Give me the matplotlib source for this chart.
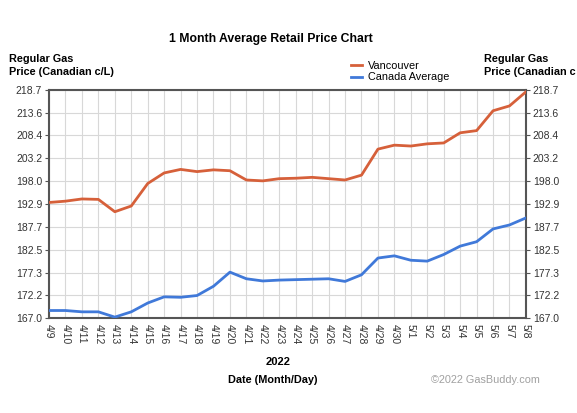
import matplotlib.pyplot as plt
import numpy as np

# data (cents per litre)
dates = ["4/9", "4/10", "4/11", "4/12", "4/13", "4/14", "4/15", "4/16", "4/17", "4/18",
         "4/19", "4/20", "4/21", "4/22", "4/23", "4/24", "4/25", "4/26", "4/27", "4/28",
         "4/29", "4/30", "5/1", "5/2", "5/3", "5/4", "5/5", "5/6", "5/7", "5/8"]
vancouver = [193.2, 193.5, 194.0, 193.9, 191.1, 192.4, 197.5, 199.9, 200.7, 200.2,
             200.6, 200.4, 198.3, 198.1, 198.6, 198.7, 198.9, 198.6, 198.3, 199.4,
             205.3, 206.2, 206.0, 206.5, 206.7, 209.0, 209.5, 214.0, 215.1, 218.3]
canada = [168.7, 168.7, 168.4, 168.4, 167.2, 168.4, 170.4, 171.8, 171.7, 172.1,
          174.2, 177.4, 175.9, 175.4, 175.6, 175.7, 175.8, 175.9, 175.3, 176.8,
          180.6, 181.1, 180.1, 179.9, 181.4, 183.3, 184.3, 187.2, 188.1, 189.7]
y_ticks = [167.0, 172.2, 177.3, 182.5, 187.7, 192.9, 198.0, 203.2, 208.4, 213.6, 218.7]

plt.rcParams['font.family'] = ['Liberation Sans', 'DejaVu Sans']

fig = plt.figure(figsize=(5.77, 4.13), dpi=100)
ax = fig.add_axes([0.085, 0.230, 0.8265, 0.552])

x = np.arange(len(dates))
ax.plot(x, vancouver, color='#d6603a', lw=2.0, label='Vancouver', zorder=3)
ax.plot(x, canada, color='#4079d9', lw=2.0, label='Canada Average', zorder=3)

ax.set_xlim(0, len(dates) - 1)
ax.set_ylim(y_ticks[0], y_ticks[-1])
ax.set_xticks(x)
ax.set_xticklabels(dates, rotation=270, fontsize=7.5, color='#333333')
ax.set_yticks(y_ticks)
ax.set_yticklabels([f"{v:.1f}" for v in y_ticks], fontsize=7.5, color='#333333')
ax.tick_params(axis='y', right=True, labelright=True, length=3, pad=2, color='#555555')
ax.tick_params(axis='x', length=0, pad=4)
ax.grid(True, color='#d8d8d8', lw=0.8)
for s in ax.spines.values():
    s.set_color('#555555')
    s.set_linewidth(1.5)

fig.text(0.47, 0.905, "1 Month Average Retail Price Chart", ha='center', va='center',
         fontsize=8.8, fontweight='bold')
fig.text(0.015, 0.842, "Regular Gas\nPrice (Canadian c/L)", ha='left', va='center',
         fontsize=7.8, fontweight='bold', linespacing=1.4)
# the reference cuts this label at the right edge
fig.text(0.838, 0.842, "Regular Gas\nPrice (Canadian c", ha='left', va='center',
         fontsize=7.8, fontweight='bold', linespacing=1.4)

ax.legend(loc='lower left', bbox_to_anchor=(0.622, 1.01), frameon=False, fontsize=7.8,
          handlelength=1.0, handletextpad=0.6, labelspacing=0.1, borderpad=0)

fig.text(0.482, 0.123, "2022", ha='center', va='center', fontsize=8, fontweight='bold')
fig.text(0.472, 0.080, "Date (Month/Day)", ha='center', va='center', fontsize=7.8,
         fontweight='bold')
fig.text(0.935, 0.080, "\u00a92022 GasBuddy.com", ha='right', va='center', fontsize=7.8,
         color='#a0a0a0')

fig.savefig("out.png", dpi=100)
